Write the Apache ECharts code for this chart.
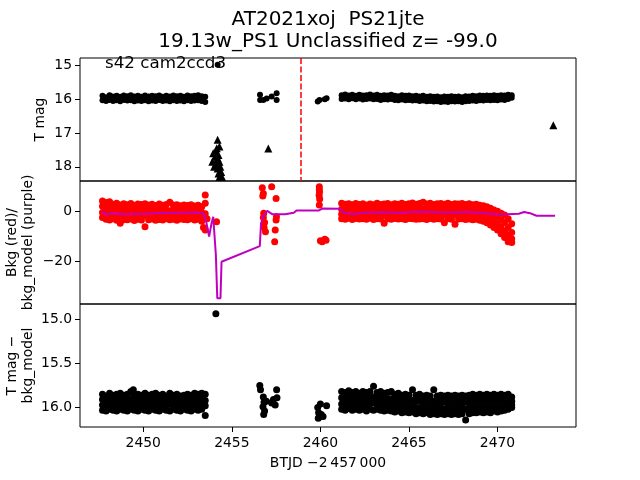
<!DOCTYPE html>
<html>
<head>
<meta charset="utf-8">
<script src="https://cdn.jsdelivr.net/npm/echarts@6/dist/echarts.min.js"></script>
<style>
  html, body { margin: 0; padding: 0; background: #fff; }
  #chart { width: 640px; height: 480px; }
</style>
</head>
<body>
<div id="chart"></div>
<script>
// x range (BTJD - 2457000)
const xMin = 2446.43
const xMax = 2474.43
const xTicks = [2450, 2455, 2460, 2465, 2470]
const cutLine = 2458.87

const titleLine1 = 'AT2021xoj  PS21jte'
const titleLine2 = '19.13w_PS1 Unclassified z= -99.0'
const ccdLabel = 's42 cam2ccd3'

// ---- top panel: T mag (circles = detections, triangles = limits) ----
// rows are [t, mag, mag, ...]
const tmagRowsA = [
  [2447.7,15.9,16.03],[2447.9,15.94,16.05],[2448.1,15.88,16.02],[2448.3,15.92,16.05],
  [2448.5,15.9,16.03],[2448.7,15.93,16.06],[2448.9,15.89,16.02],[2449.1,15.91,16.04],
  [2449.3,15.88,16.03],[2449.5,15.92,16.06],[2449.7,15.9,16.04],[2449.9,15.93,16.05],
  [2450.1,15.89,16.03],[2450.3,15.92,16.06],[2450.5,15.9,16.04],[2450.7,15.91,16.05],
  [2450.9,15.89,16.02],[2451.1,15.93,16.05],[2451.3,15.9,16.04],[2451.5,15.92,16.06],
  [2451.7,15.89,16.03],[2451.9,15.91,16.05],[2452.1,15.9,16.04],[2452.3,15.93,16.06],
  [2452.5,15.89,16.03],[2452.7,15.91,16.05],[2452.9,15.9,16.04],[2453.1,15.88,16.03],
  [2453.3,15.91,16.05],[2453.5,15.93,16.08]
]
const tmagOther = [
  [2454.2,14.98],
  [2456.59,15.87],[2456.6,16.02],[2456.78,16.02],[2456.97,15.98],[2457.25,15.92],
  [2457.53,15.82],[2457.53,16.02],
  [2459.85,16.07],[2459.95,16.02],[2460.25,16.0],[2460.35,15.97]
]
const tmagRowsD = [
  [2461.2,15.88,15.99],[2461.4,15.86,15.98],[2461.6,15.89,16.0],[2461.8,15.87,15.97],
  [2462.0,15.9,16.0],[2462.2,15.87,15.98],[2462.4,15.89,16.01],[2462.6,15.88,15.99],
  [2462.8,15.86,15.98],[2463.0,15.89,16.0],[2463.2,15.87,15.99],[2463.4,15.9,16.02],
  [2463.6,15.88,16.0],[2463.8,15.89,16.01],[2464.0,15.87,15.99],[2464.2,15.9,16.02],
  [2464.4,15.91,16.03],[2464.6,15.88,16.01],[2464.8,15.9,16.03],[2465.0,15.89,16.02],
  [2465.2,15.91,16.04],[2465.4,15.9,16.03],[2465.6,15.92,16.05],[2465.8,15.9,16.04],
  [2466.0,15.93,16.06],[2466.2,15.91,16.05],[2466.4,15.93,16.07],[2466.6,15.92,16.06],
  [2466.8,15.94,16.08],[2467.0,15.92,16.07],[2467.2,15.93,16.08],[2467.4,15.91,16.06],
  [2467.6,15.93,16.07],[2467.8,15.92,16.06],[2468.0,15.94,16.08],[2468.2,15.91,16.06],
  [2468.4,15.92,16.05],[2468.6,15.9,16.04],[2468.8,15.91,16.05],[2469.0,15.89,16.03],
  [2469.2,15.9,16.04],[2469.4,15.89,16.02],[2469.6,15.9,16.03],[2469.8,15.88,16.02],
  [2470.0,15.9,16.03],[2470.2,15.88,16.01],[2470.4,15.89,16.02],[2470.6,15.87,15.99],
  [2470.8,15.88,15.96]
]
const tmagLimits = [
  [2454.2,17.2],[2454.15,17.45],[2454.3,17.4],[2454.1,17.55],[2453.95,17.6],
  [2454.05,17.7],[2454.25,17.65],[2454.2,17.75],[2453.9,17.85],[2454.1,17.9],
  [2454.3,17.85],[2454.0,18.0],[2454.2,18.05],[2454.35,18.0],[2454.25,18.2],
  [2454.4,18.15],[2454.3,18.3],[2454.45,18.3],
  [2457.06,17.46],[2473.15,16.77]
]

// ---- middle panel: background (red) and background model (purple) ----
const bkgRowsA = [
  [2447.7,4.2,2.0,-0.5,-2.5],[2447.9,3.5,1.0,-1.5,-3.2],[2448.1,3.8,1.2,-1.0,-3.5],
  [2448.3,2.8,0.5,-1.8,-3.0],[2448.5,3.2,1.0,-1.2,-3.6],[2448.7,2.5,0.2,-2.0,-4.8],
  [2448.9,3.0,0.8,-1.4,-3.4],[2449.1,2.6,0.4,-1.6,-3.4],[2449.3,3.1,0.9,-1.3,-3.1],
  [2449.5,2.4,0.1,-2.1,-3.7],[2449.7,2.9,0.6,-1.5,-3.2],[2449.9,2.7,0.3,-1.9,-3.5],
  [2450.1,3.0,0.7,-1.7,-6.2],[2450.3,2.5,0.2,-2.0,-3.4],[2450.5,2.8,0.5,-1.6,-3.1],
  [2450.7,2.3,0.1,-2.2,-3.6],[2450.9,2.9,0.6,-1.4,-3.3],[2451.1,2.4,0.3,-1.8,-3.5],
  [2451.3,2.7,0.4,-1.6,-3.0],[2451.5,3.6,0.2,-2.0,-3.4],[2451.7,2.5,0.5,-1.5,-3.2],
  [2451.9,2.6,0.3,-1.9,-3.6],[2452.1,2.2,0.1,-1.7,-3.1],[2452.3,2.5,0.4,-1.4,-3.3],
  [2452.5,2.3,0.2,-1.8,-3.4],[2452.7,2.6,0.5,-1.5,-3.0],[2452.9,2.1,0.0,-1.9,-3.5],
  [2453.1,2.4,0.3,-1.6,-3.2],[2453.3,1.8,-0.5,-2.5,-4.0],[2453.5,6.6,3.2,-1.0,-7.5]
]
const bkgOther = [
  [2453.4,-6.5],[2453.6,-3.0],[2454.14,-4.2],
  [2456.72,9.5],[2456.78,7.2],[2456.75,6.2],[2456.8,-0.8],[2456.78,-2.5],
  [2456.85,-4.5],[2456.82,-6.5],[2456.9,-8.2],
  [2457.25,9.9],[2457.5,5.2],[2457.52,-2.2],[2457.5,-3.5],[2457.45,-7.5],[2457.42,-12.2],
  [2459.94,9.9],[2459.94,8.8],[2459.95,7.8],[2459.93,6.5],[2459.96,5.0],[2459.94,2.5],
  [2460.0,-11.8],[2460.1,-12.2],[2460.25,-11.2],[2460.32,-11.6]
]
const bkgRowsD = [
  [2461.2,3.2,0.8,-1.2,-3.0],[2461.4,2.8,0.5,-1.6,-3.2],[2461.6,3.0,1.0,-1.0,-2.8],
  [2461.8,2.6,0.3,-1.5,-3.3],[2462.0,3.1,0.8,-1.2,-2.9],[2462.2,2.7,0.4,-1.7,-3.1],
  [2462.4,3.0,1.1,-1.0,-3.0],[2462.6,2.5,0.2,-1.6,-3.2],[2462.8,2.9,0.7,-1.3,-2.8],
  [2463.0,2.6,0.4,-1.5,-3.3],[2463.2,3.2,0.9,-1.1,-3.0],[2463.4,2.7,0.5,-1.4,-3.1],
  [2463.6,2.9,0.6,-1.6,-4.8],[2463.8,3.1,0.8,-1.2,-3.0],[2464.0,2.6,0.3,-1.5,-3.2],
  [2464.2,3.0,0.9,-1.0,-2.9],[2464.4,2.8,0.5,-1.6,-3.1],[2464.6,3.2,1.0,-1.2,-3.0],
  [2464.8,2.7,0.4,-1.5,-3.3],[2465.0,3.0,0.7,-1.3,-2.9],[2465.2,3.3,1.0,-1.0,-3.0],
  [2465.4,2.8,0.6,-1.4,-3.2],[2465.6,3.1,0.8,-1.2,-3.1],[2465.8,3.6,0.9,-1.3,-3.0],
  [2466.0,2.9,0.6,-1.5,-3.3],[2466.2,3.2,1.0,-1.1,-2.9],[2466.4,2.7,0.5,-1.6,-3.2],
  [2466.6,3.0,0.7,-1.2,-3.0],[2466.8,3.1,0.8,-1.3,-3.1],[2467.0,2.8,0.5,-1.5,-4.6],
  [2467.2,3.2,0.9,-1.1,-3.0],[2467.4,2.7,0.4,-1.6,-3.2],[2467.6,3.0,0.7,-1.3,-5.2],
  [2467.8,2.9,0.6,-1.4,-3.1],[2468.0,3.1,0.8,-1.2,-3.0],[2468.2,2.7,0.5,-1.6,-3.3],
  [2468.4,3.0,0.7,-1.3,-3.1],[2468.6,2.6,0.3,-1.7,-3.4],[2468.8,2.8,0.5,-1.5,-3.2],
  [2469.0,2.4,0.2,-1.9,-3.6],[2469.2,2.2,0.0,-2.2,-4.0],[2469.4,1.8,-0.5,-2.8,-4.6],
  [2469.6,1.2,-1.0,-3.5,-5.5],[2469.8,0.5,-1.8,-4.2,-6.5],[2470.0,0.0,-2.5,-5.0,-7.5],
  [2470.2,-0.8,-3.5,-6.5,-9.0],[2470.4,-1.5,-4.5,-8.0,-10.5],[2470.6,-3.0,-6.5,-9.5,-12.2],
  [2470.8,-5.0,-8.5,-11.0,-12.5]
]
const bkgModel = [
  [2447.65,0],[2447.9,-1.2],[2448.2,-0.8],[2449.0,-1.2],[2450.0,-1.0],[2451.0,-0.7],
  [2452.0,-0.6],[2453.0,-0.5],[2453.4,-0.8],[2453.55,-4],[2453.72,-10.2],[2453.85,-5],
  [2453.95,-2.2],[2454.05,-3],[2454.1,-17.6],[2454.18,-35],[2454.36,-35],[2454.42,-20.3],
  [2456.58,-14.0],[2456.65,-4.8],[2456.8,-1.5],[2457.0,0.2],[2457.3,-1.2],[2458.0,-1.2],
  [2458.5,-0.6],[2458.65,0.3],[2459.9,0.3],[2460.1,1.1],[2461.1,1.0],[2461.3,-0.5],
  [2461.8,-1.2],[2462.5,-0.6],[2463.5,-0.4],[2464.5,-0.6],[2465.5,-0.2],[2466.5,-0.4],
  [2467.5,-0.5],[2468.5,-0.3],[2469.0,-0.6],[2469.5,-0.9],[2470.0,-1.3],[2470.5,-1.2],
  [2471.2,-1.0],[2471.5,-0.3],[2471.9,-0.9],[2472.2,-1.8],[2473.25,-1.8]
]

// ---- bottom panel: T mag - bkg_model ----
const corrRowsA = [
  [2447.7,15.85,15.91,15.97,16.03],[2447.9,15.87,15.93,15.99,16.04],[2448.1,15.84,15.9,15.96,16.02],
  [2448.3,15.86,15.92,15.98,16.03],[2448.5,15.85,15.91,15.97,16.04],[2448.7,15.84,15.9,15.96,16.02],
  [2448.9,15.86,15.92,15.98,16.03],[2449.1,15.85,15.91,15.97,16.04],[2449.3,15.82,15.9,15.96,16.02],
  [2449.5,15.86,15.93,15.99,16.03],[2449.7,15.85,15.91,15.97,16.04],[2449.9,15.86,15.92,15.98,16.02],
  [2450.1,15.84,15.9,15.96,16.03],[2450.3,15.86,15.92,15.98,16.04],[2450.5,15.85,15.91,15.97,16.02],
  [2450.7,15.84,15.9,15.96,16.03],[2450.9,15.86,15.92,15.98,16.04],[2451.1,15.85,15.91,15.97,16.02],
  [2451.3,15.87,15.93,15.99,16.03],[2451.5,15.84,15.9,15.96,16.04],[2451.7,15.86,15.92,15.98,16.02],
  [2451.9,15.85,15.91,15.97,16.03],[2452.1,15.87,15.93,15.99,16.04],[2452.3,15.86,15.92,15.98,16.02],
  [2452.5,15.85,15.91,15.97,16.03],[2452.7,15.86,15.92,15.98,16.04],[2452.9,15.84,15.9,15.96,16.02],
  [2453.1,15.85,15.91,15.97,16.03],[2453.3,15.84,15.9,15.96,16.02],[2453.5,15.85,15.92,15.98,16.09]
]
const corrOther = [
  [2449.44,15.8],[2454.1,14.94],
  [2456.58,15.75],[2456.62,15.8],[2456.78,15.88],[2456.82,15.94],[2456.76,15.99],
  [2456.85,16.04],[2456.8,16.08],[2456.95,15.93],[2457.25,15.95],[2457.35,15.91],
  [2457.45,15.97],[2457.55,15.89],[2457.53,15.8],
  [2459.85,16.0],[2459.9,16.06],[2459.95,16.1],[2459.88,16.12],[2460.05,16.08],
  [2460.15,16.1],[2460.35,15.98],[2460.0,15.96]
]
const corrRowsD = [
  [2461.2,15.82,15.89,15.96,16.02],[2461.4,15.83,15.9,15.97,16.03],[2461.6,15.81,15.88,15.95,16.01],
  [2461.8,15.83,15.9,15.97,16.03],[2462.0,15.82,15.89,15.96,16.02],[2462.2,15.84,15.91,15.98,16.03],
  [2462.4,15.82,15.89,15.96,16.02],[2462.6,15.83,15.9,15.97,16.04],[2462.8,15.82,15.89,15.96,16.02],
  [2463.0,15.76,15.88,15.95,16.03],[2463.2,15.83,15.9,15.97,16.02],[2463.4,15.82,15.89,15.96,16.03],
  [2463.6,15.84,15.91,15.98,16.04],[2463.8,15.83,15.9,15.97,16.03],[2464.0,15.82,15.9,15.97,16.04],
  [2464.2,15.85,15.92,15.99,16.05],[2464.4,15.84,15.91,15.98,16.04],[2464.6,15.86,15.93,16.0,16.06],
  [2464.8,15.85,15.92,15.99,16.05],[2465.0,15.86,15.93,16.0,16.06],[2465.2,15.8,15.92,15.99,16.05],
  [2465.4,15.86,15.93,16.0,16.07],[2465.6,15.85,15.92,16.0,16.06],[2465.8,15.87,15.94,16.01,16.07],
  [2466.0,15.86,15.93,16.0,16.06],[2466.2,15.87,15.94,16.01,16.08],[2466.4,15.8,15.93,16.0,16.07],
  [2466.6,15.87,15.94,16.01,16.08],[2466.8,15.86,15.93,16.0,16.07],[2467.0,15.87,15.94,16.02,16.08],
  [2467.2,15.86,15.93,16.0,16.07],[2467.4,15.87,15.94,16.01,16.08],[2467.6,15.86,15.93,16.0,16.07],
  [2467.8,15.87,15.94,16.01,16.08],[2468.0,15.86,15.93,16.0,16.07],[2468.2,15.87,15.94,16.02,16.14],
  [2468.4,15.86,15.93,16.0,16.07],[2468.6,15.85,15.92,15.99,16.06],[2468.8,15.86,15.93,16.0,16.06],
  [2469.0,15.85,15.92,15.99,16.05],[2469.2,15.86,15.93,16.0,16.06],[2469.4,15.85,15.92,15.99,16.05],
  [2469.6,15.86,15.93,16.0,16.06],[2469.8,15.85,15.92,15.99,16.04],[2470.0,15.86,15.93,16.0,16.05],
  [2470.2,15.85,15.92,15.99,16.04],[2470.4,15.86,15.93,15.99,16.03],[2470.6,15.85,15.92,15.98,16.02],
  [2470.8,15.88,15.93,15.97,16.0]
]

const topTicks = [15, 16, 17, 18]
const midTicks = [-20, 0]
const botTicks = [15.0, 15.5, 16.0]

// [t, v1, v2, ...] -> [[t, v1], [t, v2], ...]
function rowsToPoints(rows) {
  const pts = []
  rows.forEach(r => {
    for (let i = 1; i < r.length; i++) pts.push([r[0], r[i]])
  })
  return pts
}

const FONT = 'DejaVu Sans'
const minus = v => String(v).replace('-', '\u2212')

const chart = echarts.init(document.getElementById('chart'))

const gridBox = (top) => ({
  left: 80, right: 64, top, height: 123,
  containLabel: false, outerBoundsMode: 'none',
  show: true, borderColor: '#000', borderWidth: 1, backgroundColor: 'transparent'
})

const hiddenX = (gridIndex) => ({
  type: 'value', gridIndex, min: xMin, max: xMax,
  axisLine: { show: false }, axisTick: { show: false },
  axisLabel: { show: false }, splitLine: { show: false }
})

const yBase = {
  type: 'value',
  nameLocation: 'middle',
  nameRotate: 90,
  nameMoveOverlap: false,
  nameTextStyle: { color: '#000', fontSize: 13.9, fontFamily: FONT, lineHeight: 16 },
  axisLine: { show: false },
  splitLine: { show: false },
  axisTick: { show: true, length: 5, lineStyle: { color: '#000' } },
  axisLabel: { color: '#000', fontSize: 13.9, fontFamily: FONT, margin: 8 }
}

const option = {
  animation: false,
  backgroundColor: '#fff',
  grid: [gridBox(58), gridBox(181), gridBox(304)],
  xAxis: [
    hiddenX(0),
    hiddenX(1),
    {
      type: 'value', gridIndex: 2, min: xMin, max: xMax,
      name: 'BTJD \u22122\u2009457\u2009000',
      nameLocation: 'middle', nameGap: 29, nameMoveOverlap: false,
      nameTextStyle: { color: '#000', fontSize: 13.9, fontFamily: FONT },
      axisLine: { show: false },
      splitLine: { show: false },
      axisTick: { show: true, length: 5, customValues: xTicks, lineStyle: { color: '#000' } },
      axisLabel: { color: '#000', fontSize: 13.9, fontFamily: FONT, margin: 9, customValues: xTicks, formatter: v => String(v) }
    }
  ],
  yAxis: [
    Object.assign({}, yBase, {
      gridIndex: 0, inverse: true, min: 14.78, max: 18.42,
      name: 'T mag', nameGap: 32,
      axisTick: Object.assign({}, yBase.axisTick, { customValues: topTicks }),
      axisLabel: Object.assign({}, yBase.axisLabel, { customValues: topTicks, formatter: v => String(v) })
    }),
    Object.assign({}, yBase, {
      gridIndex: 1, min: -37.3, max: 12.2,
      name: 'Bkg (red)/\nbkg_model (purple)', nameGap: 44,
      axisTick: Object.assign({}, yBase.axisTick, { customValues: midTicks }),
      axisLabel: Object.assign({}, yBase.axisLabel, { customValues: midTicks, formatter: v => minus(v) })
    }),
    Object.assign({}, yBase, {
      gridIndex: 2, inverse: true, min: 14.83, max: 16.22,
      name: 'T mag \u2212\nbkg_model', nameGap: 44,
      axisTick: Object.assign({}, yBase.axisTick, { customValues: botTicks }),
      axisLabel: Object.assign({}, yBase.axisLabel, { customValues: botTicks, formatter: v => Number(v).toFixed(1) })
    })
  ],
  graphic: [
    { type: 'text', x: 328, y: 20, style: { text: titleLine1, fill: '#000', fontSize: 20, fontFamily: FONT, align: 'center', verticalAlign: 'middle' } },
    { type: 'text', x: 328, y: 42, style: { text: titleLine2, fill: '#000', fontSize: 20, fontFamily: FONT, align: 'center', verticalAlign: 'middle' } },
    { type: 'text', x: 105, y: 64, z: 10, style: { text: ccdLabel, fill: '#000', fontSize: 16.7, fontFamily: FONT, align: 'left', verticalAlign: 'middle' } }
  ],
  series: [
    {
      type: 'scatter', xAxisIndex: 0, yAxisIndex: 0,
      symbol: 'circle', symbolSize: 6,
      itemStyle: { color: '#000', opacity: 1 },
      data: rowsToPoints(tmagRowsA).concat(tmagOther, rowsToPoints(tmagRowsD)),
      markLine: {
        silent: true, symbol: 'none', label: { show: false },
        lineStyle: { color: '#ff0000', width: 1.5, type: [6, 2.5] },
        data: [{ xAxis: cutLine }]
      }
    },
    {
      type: 'scatter', xAxisIndex: 0, yAxisIndex: 0,
      symbol: 'triangle', symbolSize: 8,
      itemStyle: { color: '#000', opacity: 1 },
      data: tmagLimits
    },
    {
      type: 'scatter', xAxisIndex: 1, yAxisIndex: 1,
      symbol: 'circle', symbolSize: 7, z: 2,
      itemStyle: { color: '#ff0000', opacity: 1 },
      data: rowsToPoints(bkgRowsA).concat(bkgOther, rowsToPoints(bkgRowsD))
    },
    {
      type: 'line', xAxisIndex: 1, yAxisIndex: 1, z: 3,
      showSymbol: false,
      lineStyle: { color: '#bf00bf', width: 2 },
      data: bkgModel
    },
    {
      type: 'scatter', xAxisIndex: 2, yAxisIndex: 2,
      symbol: 'circle', symbolSize: 7,
      itemStyle: { color: '#000', opacity: 1 },
      data: rowsToPoints(corrRowsA).concat(corrOther, rowsToPoints(corrRowsD))
    }
  ]
}

chart.setOption(option)
</script>
</body>
</html>
